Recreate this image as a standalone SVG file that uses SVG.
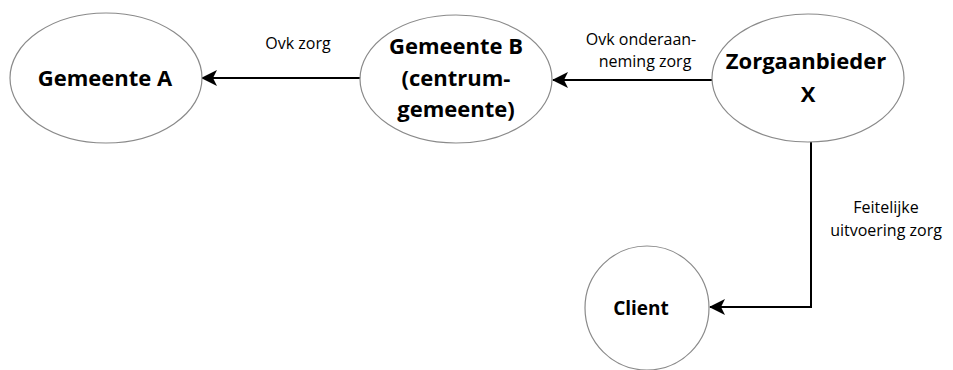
<svg xmlns="http://www.w3.org/2000/svg" width="953" height="370" viewBox="0 0 953 370">
<style>
.node{fill:#fff;stroke:#8a8a8a;stroke-width:1.2}
.b{font-family:"Open Sans","Liberation Sans",sans-serif;font-weight:bold;font-size:22px;fill:#000;text-anchor:middle}
.l{font-family:"Open Sans","Liberation Sans",sans-serif;font-size:16px;fill:#000;text-anchor:middle}
.c{fill:none;stroke:#000;stroke-width:2}
</style>
<defs>
<marker id="ah" viewBox="0 0 16 16" refX="15" refY="8" markerWidth="16" markerHeight="16" markerUnits="userSpaceOnUse" orient="auto">
<path d="M0,0 L16,8 L0,16 L4,8 Z" fill="#000"/>
</marker>
</defs>
<rect width="953" height="370" fill="#fff"/>
<g id="connectors">
<line class="c" x1="361" y1="78" x2="202" y2="78" marker-end="url(#ah)"/>
<line class="c" x1="712" y1="80" x2="553" y2="80" marker-end="url(#ah)"/>
<polyline class="c" points="811,142 811,307 710,307" marker-end="url(#ah)"/>
<text class="l" x="298" y="49">Ovk zorg</text>
<text class="l" x="641" y="45">Ovk onderaan-</text>
<text class="l" x="645" y="67">neming zorg</text>
<text class="l" x="886" y="213">Feitelijke</text>
<text class="l" x="886" y="236">uitvoering zorg</text>
</g>
<g id="gemeente-a">
<ellipse class="node" cx="106" cy="78" rx="96" ry="65"/>
<text class="b" x="105" y="86">Gemeente A</text>
</g>
<g id="gemeente-b">
<ellipse class="node" cx="456" cy="79" rx="96" ry="64"/>
<text class="b" x="456" y="54">Gemeente B</text>
<text class="b" x="456" y="86">(centrum-</text>
<text class="b" x="456" y="117">gemeente)</text>
</g>
<g id="zorgaanbieder-x">
<ellipse class="node" cx="808" cy="78" rx="96" ry="64"/>
<text class="b" x="806" y="69">Zorgaanbieder</text>
<text class="b" x="808" y="102">X</text>
</g>
<g id="client">
<circle class="node" cx="647" cy="308" r="62"/>
<text class="b" x="641" y="315" style="font-size:19px">Client</text>
</g>
</svg>
